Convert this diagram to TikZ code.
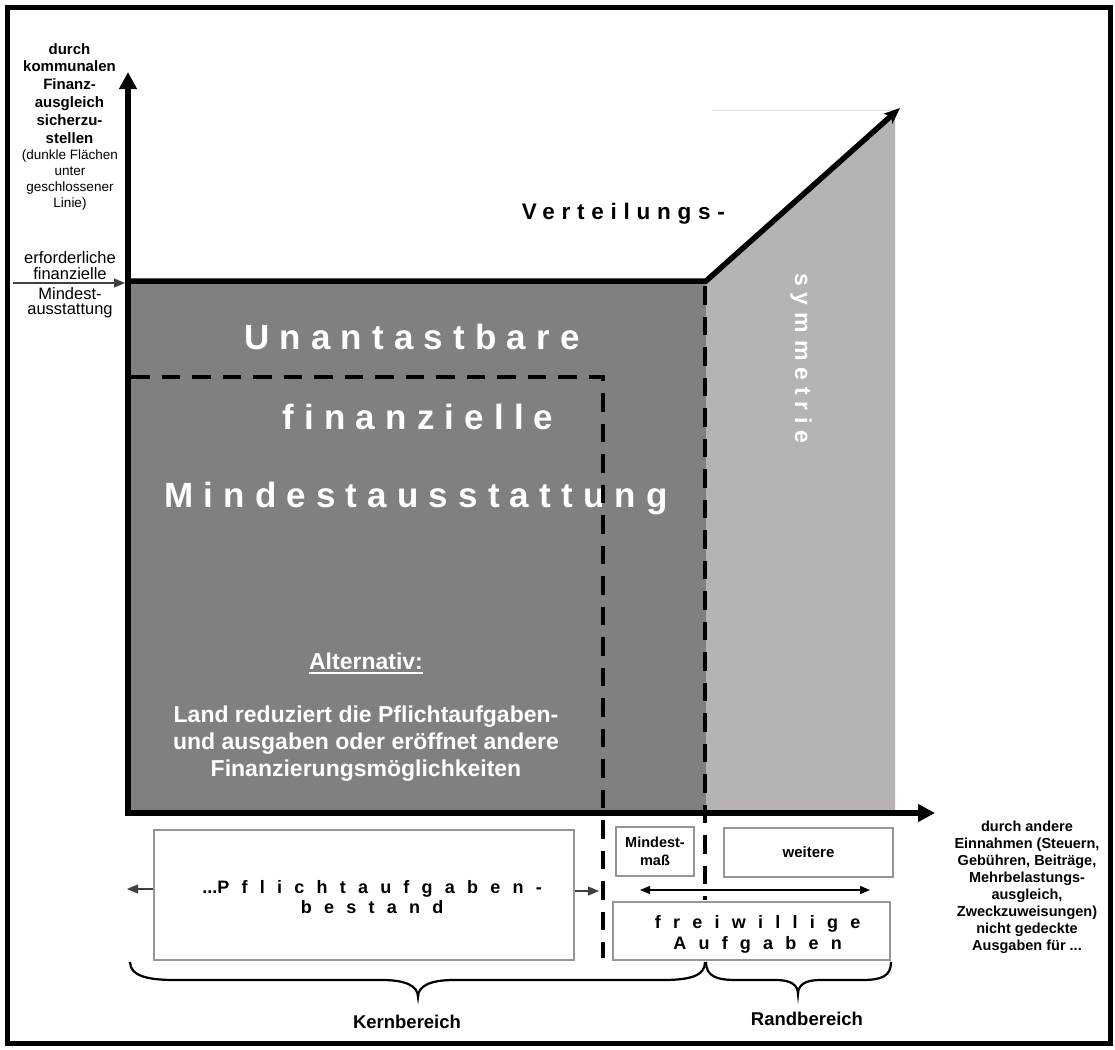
\documentclass[tikz,border=0pt]{standalone}
\usepackage{fontspec}
\setmainfont{Liberation Sans}
\usetikzlibrary{arrows.meta}
\definecolor{darkfill}{RGB}{128,128,128}
\definecolor{lightfill}{RGB}{182,179,178}
\definecolor{boxline}{RGB}{150,150,150}
\definecolor{thinarrow}{RGB}{64,64,64}
\definecolor{faintline}{RGB}{225,225,225}
\newcommand\fsz[2]{\fontsize{#1}{#2}\selectfont}
\newcommand\spaced[2]{{\addfontfeature{LetterSpace=#1}#2\kern-\dimexpr#1\fontdimen6\font/100\relax}}
\tikzset{
  box/.style={draw=boxline, line width=1.3pt, fill=white, inner sep=0pt},
  axisline/.style={line width=5.5pt},
  dashline/.style={line width=4.5pt, dash pattern=on 18.5pt off 12pt},
  bigtext/.style={text=white, inner sep=0pt, font=\fsz{35}{40}\bfseries},
  thinarr/.style={draw=thinarrow, line width=1.1pt, -{Triangle[length=11pt,width=9pt]}, color=thinarrow},
  plain/.style={inner sep=0pt, align=center},
}
\begin{document}
\begin{tikzpicture}[x=1pt,y=-1pt]
\useasboundingbox (0,0) rectangle (1115,1049);
\fill[white] (0,0) rectangle (1115,1049);
% frame
\draw[line width=5pt] (7.5,7.5) rectangle (1110.5,1043.5);

% areas
\fill[darkfill] (128,281) rectangle (706,813);
\fill[lightfill] (706,281) -- (895,112) -- (895,813) -- (706,813) -- cycle;
\draw[faintline, line width=1pt] (712,110) -- (893,110);

% big texts
\node[bigtext] (unan) at (407,337) {\spaced{29}{Unantastbare}};
\node[bigtext] (fin) at (413,417) {\spaced{29}{finanzielle}};
\node[bigtext] (mind) at (411,499) {\spaced{29}{Mindestausstattung}};

\node[plain, text=white, font=\fsz{23}{27}\bfseries] (alt) at (366,661) {Alternativ:};
\draw[white, line width=2.2pt] ([yshift=-3pt]alt.south west) -- ([yshift=-3pt]alt.south east);
\node[plain, text=white, font=\fsz{23}{27}\bfseries] (land) at (366,744)
  {Land reduziert die Pflichtaufgaben-\\und ausgaben oder eröffnet andere\\Finanzierungsmöglichkeiten};

\node[plain, text=white, font=\fsz{23}{27}\bfseries, rotate=-90] (sym) at (801,355) {\spaced{30}{symmetrie}};
\node[plain, font=\fsz{22.5}{27}\bfseries] (vert) at (620,214) {\spaced{30}{Verteilungs-}};

% dashed lines
\draw[dashline] (131,377) -- (603,377) -- (603,958);
\draw[dashline] (705,286) -- (705,900);

% axes
\draw[axisline, -{Triangle[length=17pt,width=17pt]}] (128,816) -- (128,72);
\draw[axisline, line join=miter, -{Stealth[length=16pt,width=13pt,inset=4pt]}] (125.25,281) -- (706,281) -- (900,108);
\draw[axisline, -{Triangle[length=17pt,width=17pt]}] (125.25,813) -- (935,813);

% left texts
\node[plain, anchor=north, font=\fsz{15}{17.8}\bfseries] (ytitle) at (69.5,43)
  {durch\\kommunalen\\Finanz-\\ausgleich\\sicherzu-\\stellen};
\node[plain, anchor=north, font=\fsz{13.5}{16}] (ynote) at (70,150)
  {(dunkle Flächen\\unter\\geschlossener\\Linie)};
\node[plain, anchor=north, font=\fsz{16.5}{16.3}] (erf) at (70,251) {erforderliche\\finanzielle};
\node[plain, anchor=north, font=\fsz{16.5}{15.5}] (erf2) at (70,287) {Mindest-\\ausstattung};
\coordinate (erfstart) at (13,283);
\coordinate (erfend) at (125,283);
\draw[thinarr] (erfstart) -- (erfend);

% right text
\node[plain, anchor=north, font=\fsz{14.5}{17}\bfseries] (xtitle) at (1027,821)
  {durch andere\\Einnahmen (Steuern,\\Gebühren, Beiträge,\\Mehrbelastungs-\\ausgleich,\\Zweckzuweisungen)\\nicht gedeckte\\Ausgaben für ...};

% bottom boxes
\node[box, minimum width=420pt, minimum height=130pt] (pflicht) at (364,895) {};
\node[plain, font=\fsz{18}{20}\bfseries] (pflichttext) at (366,897)
  {...\spaced{68}{Pflichtaufgaben-}\\\spaced{68}{bestand}};
\coordinate (pl) at (127,889);
\coordinate (pr) at (599,891);
\draw[thinarr] (pflicht.west |- pl) -- (pl);
\draw[thinarr] (pflicht.east |- pr) -- (pr);

\node[box, minimum width=78pt, minimum height=49pt, align=center, font=\fsz{14.5}{18}\bfseries] (mm) at (655,851.5) {Mindest-\\maß};
\node[box, minimum width=169pt, minimum height=49pt, font=\fsz{15}{18}\bfseries] (weit) at (808.5,852.5) {weitere};
\node[box, minimum width=277pt, minimum height=58pt] (frei) at (751.5,931) {};
\node[plain, font=\fsz{18}{21}\bfseries] (freitext) at (751.5,934) {\spaced{68}{freiwillige}\\\spaced{68}{Aufgaben}};
\coordinate (dl) at (640,890);
\coordinate (dr) at (870,890);
\draw[line width=1.3pt, {Triangle[length=10pt,width=8pt]}-{Triangle[length=10pt,width=8pt]}] (dl) -- (dr);

% braces
\draw[line width=2.2pt] (130,962) .. controls (130,976) and (148,980) .. (175,980) -- (382,980)
  .. controls (406,980) and (418,986) .. (418,997) .. controls (418,986) and (430,980) .. (454,980)
  -- (662,980) .. controls (690,980) and (705,976) .. (705,962);
\draw[line width=2.2pt] (706,962) .. controls (706,976) and (716,980) .. (736,980) -- (776,980)
  .. controls (791,980) and (798,985) .. (798,994) .. controls (798,985) and (805,980) .. (820,980)
  -- (862,980) .. controls (882,980) and (891,976) .. (891,962);
\node[plain, font=\fsz{18.5}{22}\bfseries] (kern) at (407,1022) {Kernbereich};
\node[plain, font=\fsz{18.5}{22}\bfseries] (rand) at (807,1019) {Randbereich};
\end{tikzpicture}
\end{document}
